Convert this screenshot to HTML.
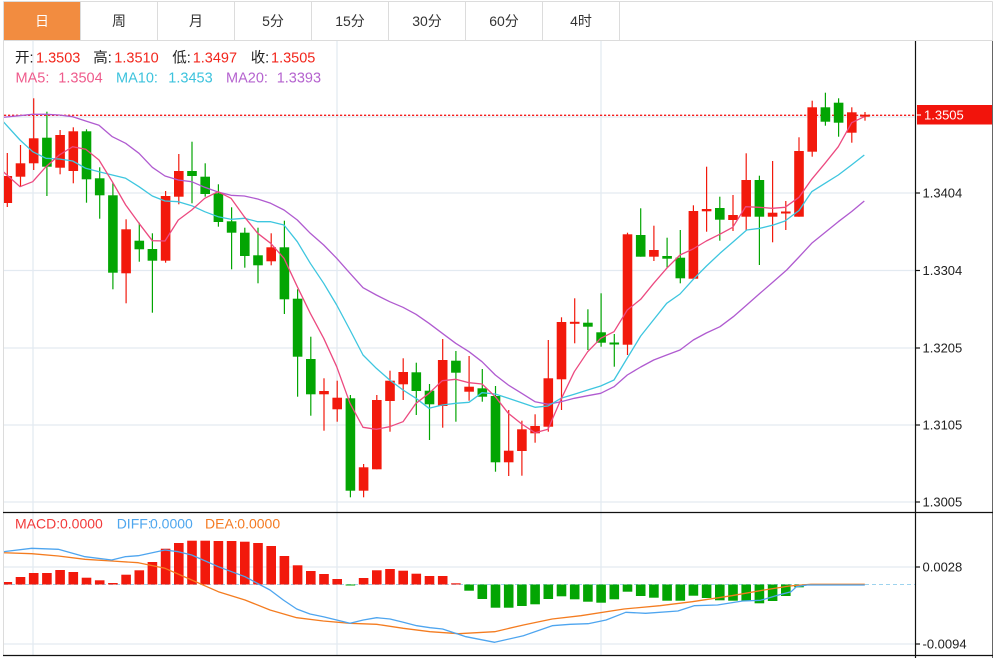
<!DOCTYPE html>
<html><head><meta charset="utf-8"><style>
html,body{margin:0;padding:0;background:#fff;width:993px;height:658px;overflow:hidden}
svg{display:block;font-family:"Liberation Sans","Noto Sans CJK SC",sans-serif}
</style></head><body>
<svg width="993" height="658" viewBox="0 0 993 658" xmlns="http://www.w3.org/2000/svg">
<defs><clipPath id="cp"><rect x="4" y="41" width="911" height="614"/></clipPath></defs>
<rect width="993" height="658" fill="#fff"/>
<!-- tabs -->
<rect x="4" y="2" width="76" height="38" fill="#f28c40"/>
<g stroke="#dcdcdc" stroke-width="1">
<line x1="3.5" y1="1.5" x2="992.5" y2="1.5"/>
<line x1="3.5" y1="40.5" x2="992.5" y2="40.5"/>
<line x1="3.5" y1="1.5" x2="3.5" y2="656"/>
<line x1="992.5" y1="1.5" x2="992.5" y2="41"/>
<line x1="80.5" y1="2" x2="80.5" y2="40"/><line x1="157.5" y1="2" x2="157.5" y2="40"/>
<line x1="234.5" y1="2" x2="234.5" y2="40"/><line x1="311.5" y1="2" x2="311.5" y2="40"/>
<line x1="388.5" y1="2" x2="388.5" y2="40"/><line x1="465.5" y1="2" x2="465.5" y2="40"/>
<line x1="542.5" y1="2" x2="542.5" y2="40"/><line x1="619.5" y1="2" x2="619.5" y2="40"/>
</g>
<line x1="992.5" y1="41" x2="992.5" y2="658" stroke="#666"/>
<g font-size="14" text-anchor="middle" dominant-baseline="central" fill="#333">
<text x="42" y="21" fill="#fff">日</text><text x="119" y="21">周</text><text x="196" y="21">月</text>
<text x="273" y="21">5分</text><text x="350" y="21">15分</text><text x="427" y="21">30分</text>
<text x="504" y="21">60分</text><text x="581" y="21">4时</text>
</g>
<!-- grid -->
<g stroke="#e3eaf1" stroke-width="1.3">
<line x1="4" y1="193" x2="915" y2="193"/><line x1="4" y1="270.5" x2="915" y2="270.5"/>
<line x1="4" y1="348" x2="915" y2="348"/><line x1="4" y1="425" x2="915" y2="425"/>
<line x1="4" y1="502" x2="915" y2="502"/><line x1="4" y1="117" x2="915" y2="117"/>
<line x1="4" y1="567" x2="915" y2="567"/><line x1="4" y1="644" x2="915" y2="644"/>
<line x1="33" y1="41" x2="33" y2="655"/><line x1="337" y1="41" x2="337" y2="655"/><line x1="601" y1="41" x2="601" y2="655"/>
</g>
<!-- legend -->
<g font-size="14.5" dominant-baseline="central">
<text x="15" y="58.5" fill="#222">开:</text><text x="36" y="58.5" fill="#f2261c">1.3503</text>
<text x="93.3" y="58.5" fill="#222">高:</text><text x="114.3" y="58.5" fill="#f2261c">1.3510</text>
<text x="172.3" y="58.5" fill="#222">低:</text><text x="192.7" y="58.5" fill="#f2261c">1.3497</text>
<text x="250.7" y="58.5" fill="#222">收:</text><text x="271" y="58.5" fill="#f2261c">1.3505</text>
<text x="15.5" y="78.5" fill="#ef5b8c">MA5:</text><text x="58.3" y="78.5" fill="#ef5b8c">1.3504</text>
<text x="116" y="78.5" fill="#3dc3dd">MA10:</text><text x="168.3" y="78.5" fill="#3dc3dd">1.3453</text>
<text x="226" y="78.5" fill="#b563cf">MA20:</text><text x="276.7" y="78.5" fill="#b563cf">1.3393</text>
</g>
<g font-size="14" dominant-baseline="central">
<text x="15" y="523.7" fill="#f23a3a">MACD:</text><text x="60" y="523.7" fill="#f23a3a">0.0000</text>
<text x="116.7" y="523.7" fill="#4ea6ee">DIFF:</text><text x="150" y="523.7" fill="#4ea6ee">0.0000</text>
<text x="205" y="523.7" fill="#f47a22">DEA:</text><text x="237.3" y="523.7" fill="#f47a22">0.0000</text>
</g>
<g clip-path="url(#cp)">
<!-- red dashed current price -->
<line x1="4" y1="115.3" x2="915" y2="115.3" stroke="#f51e1e" stroke-width="1.4" stroke-dasharray="2.2,1.8"/>
<!-- red candles -->
<g stroke="#f2190c" stroke-width="1.2">
<line x1="7.3" y1="153" x2="7.3" y2="207"/><line x1="20.5" y1="145" x2="20.5" y2="186.7"/>
<line x1="33.7" y1="98.3" x2="33.7" y2="170"/><line x1="60.1" y1="130" x2="60.1" y2="174.3"/>
<line x1="73.3" y1="127.3" x2="73.3" y2="183.3"/><line x1="126.1" y1="219.3" x2="126.1" y2="303.3"/>
<line x1="165.6" y1="191" x2="165.6" y2="262.7"/><line x1="178.8" y1="154" x2="178.8" y2="204.3"/>
<line x1="271.2" y1="233.3" x2="271.2" y2="265.3"/><line x1="324" y1="378.3" x2="324" y2="430.7"/>
<line x1="337.2" y1="380.7" x2="337.2" y2="421.7"/><line x1="363.6" y1="464" x2="363.6" y2="497.3"/>
<line x1="376.8" y1="395" x2="376.8" y2="469.3"/><line x1="390" y1="370.7" x2="390" y2="431.7"/>
<line x1="403.2" y1="358.3" x2="403.2" y2="400"/><line x1="442.7" y1="339" x2="442.7" y2="427.7"/>
<line x1="469.1" y1="356" x2="469.1" y2="400.7"/><line x1="508.7" y1="410" x2="508.7" y2="476"/>
<line x1="521.9" y1="420.7" x2="521.9" y2="475.7"/><line x1="535.1" y1="414.3" x2="535.1" y2="442.7"/>
<line x1="548.3" y1="340" x2="548.3" y2="431.7"/><line x1="561.5" y1="317.3" x2="561.5" y2="410"/>
<line x1="574.7" y1="298.3" x2="574.7" y2="343.3"/><line x1="627.5" y1="232.7" x2="627.5" y2="355"/>
<line x1="653.9" y1="225.7" x2="653.9" y2="261"/><line x1="693.4" y1="205.3" x2="693.4" y2="278.7"/>
<line x1="706.6" y1="166.7" x2="706.6" y2="231.7"/><line x1="733" y1="195" x2="733" y2="231"/>
<line x1="746.2" y1="153.3" x2="746.2" y2="230"/><line x1="772.6" y1="161" x2="772.6" y2="242.3"/>
<line x1="785.8" y1="201" x2="785.8" y2="230"/><line x1="799" y1="137.3" x2="799" y2="216.7"/>
<line x1="812.2" y1="100.7" x2="812.2" y2="156.7"/><line x1="851.8" y1="107.3" x2="851.8" y2="142.7"/>
<line x1="865" y1="112" x2="865" y2="120.7"/>
</g>
<g fill="#f2190c">
<rect x="2.5" y="176" width="9.6" height="27"/><rect x="15.7" y="163.3" width="9.6" height="13.4"/>
<rect x="28.9" y="138.3" width="9.6" height="25"/><rect x="55.3" y="135" width="9.6" height="32.7"/>
<rect x="68.5" y="131.3" width="9.6" height="39.7"/><rect x="121.3" y="229.3" width="9.6" height="44"/>
<rect x="160.8" y="196" width="9.6" height="64.7"/><rect x="174" y="171" width="9.6" height="25.7"/>
<rect x="266.4" y="247.3" width="9.6" height="14"/><rect x="319.2" y="391" width="9.6" height="3.3"/>
<rect x="332.4" y="397.7" width="9.6" height="11.6"/><rect x="358.8" y="467.3" width="9.6" height="23.4"/>
<rect x="372" y="400" width="9.6" height="69.3"/><rect x="385.2" y="380.7" width="9.6" height="20.3"/>
<rect x="398.4" y="372" width="9.6" height="12.3"/><rect x="437.9" y="360" width="9.6" height="46"/>
<rect x="464.3" y="386.7" width="9.6" height="5"/><rect x="503.9" y="450.7" width="9.6" height="11.6"/>
<rect x="517.1" y="429.3" width="9.6" height="21.7"/><rect x="530.3" y="426" width="9.6" height="7.3"/>
<rect x="543.5" y="378.3" width="9.6" height="48.4"/><rect x="556.7" y="322" width="9.6" height="57.3"/>
<rect x="569.9" y="321.8" width="9.6" height="2"/><rect x="622.7" y="234.3" width="9.6" height="110.4"/>
<rect x="649.1" y="250" width="9.6" height="6.7"/><rect x="688.6" y="211" width="9.6" height="67.7"/>
<rect x="701.8" y="209" width="9.6" height="2.3"/><rect x="728.2" y="215" width="9.6" height="5"/>
<rect x="741.4" y="180" width="9.6" height="36.7"/><rect x="767.8" y="212.7" width="9.6" height="4"/>
<rect x="781" y="211.5" width="9.6" height="2"/><rect x="794.2" y="151" width="9.6" height="65.7"/>
<rect x="807.4" y="107.3" width="9.6" height="44.4"/><rect x="847" y="112.3" width="9.6" height="20.4"/>
<rect x="860.2" y="114.7" width="9.6" height="2"/>
</g>
<!-- green candles -->
<g stroke="#03a503" stroke-width="1.2">
<line x1="46.9" y1="111.7" x2="46.9" y2="196"/><line x1="86.5" y1="129.3" x2="86.5" y2="202.7"/>
<line x1="99.7" y1="167.3" x2="99.7" y2="218.7"/><line x1="112.9" y1="182.7" x2="112.9" y2="289.3"/>
<line x1="139.3" y1="222.7" x2="139.3" y2="261.7"/><line x1="152.4" y1="233.3" x2="152.4" y2="312.7"/>
<line x1="192" y1="141.7" x2="192" y2="203.3"/><line x1="205.2" y1="163.3" x2="205.2" y2="196.7"/>
<line x1="218.4" y1="184.3" x2="218.4" y2="226.7"/><line x1="231.6" y1="207.3" x2="231.6" y2="269.3"/>
<line x1="244.8" y1="227.7" x2="244.8" y2="267.7"/><line x1="258" y1="227.7" x2="258" y2="283.3"/>
<line x1="284.4" y1="220.7" x2="284.4" y2="314"/><line x1="297.6" y1="289.3" x2="297.6" y2="396.7"/>
<line x1="310.8" y1="336.7" x2="310.8" y2="415.7"/><line x1="350.4" y1="395" x2="350.4" y2="497.3"/>
<line x1="416.3" y1="362.7" x2="416.3" y2="415"/><line x1="429.5" y1="384" x2="429.5" y2="440"/>
<line x1="455.9" y1="351" x2="455.9" y2="421.7"/><line x1="482.3" y1="369" x2="482.3" y2="401.7"/>
<line x1="495.5" y1="386" x2="495.5" y2="471.7"/><line x1="587.9" y1="309.3" x2="587.9" y2="350"/>
<line x1="601.1" y1="293.3" x2="601.1" y2="346.7"/><line x1="614.3" y1="334" x2="614.3" y2="366.7"/>
<line x1="640.7" y1="208.3" x2="640.7" y2="256.7"/><line x1="667.1" y1="237.7" x2="667.1" y2="267.7"/>
<line x1="680.3" y1="230" x2="680.3" y2="283.3"/><line x1="719.8" y1="196.7" x2="719.8" y2="240.7"/>
<line x1="759.4" y1="175.7" x2="759.4" y2="265"/><line x1="825.4" y1="92.7" x2="825.4" y2="125.7"/>
<line x1="838.6" y1="98.3" x2="838.6" y2="136.7"/>
</g>
<g fill="#03a503">
<rect x="42.1" y="137.7" width="9.6" height="29"/><rect x="81.7" y="131.3" width="9.6" height="48"/>
<rect x="94.9" y="178.3" width="9.6" height="17"/><rect x="108.1" y="195.3" width="9.6" height="77.4"/>
<rect x="134.5" y="240.7" width="9.6" height="8.6"/><rect x="147.6" y="249" width="9.6" height="11.7"/>
<rect x="187.2" y="171" width="9.6" height="5"/><rect x="200.4" y="176.7" width="9.6" height="17.3"/>
<rect x="213.6" y="193.3" width="9.6" height="28.7"/><rect x="226.8" y="221.3" width="9.6" height="11.4"/>
<rect x="240" y="232.7" width="9.6" height="23.3"/><rect x="253.2" y="255.3" width="9.6" height="10"/>
<rect x="279.6" y="247.3" width="9.6" height="52"/><rect x="292.8" y="298.7" width="9.6" height="58"/>
<rect x="306" y="359" width="9.6" height="35.3"/><rect x="345.6" y="398.3" width="9.6" height="92.4"/>
<rect x="411.5" y="372.3" width="9.6" height="18.7"/><rect x="424.7" y="390.7" width="9.6" height="13.6"/>
<rect x="451.1" y="360.7" width="9.6" height="12"/><rect x="477.5" y="388.3" width="9.6" height="8.4"/>
<rect x="490.7" y="396" width="9.6" height="66.3"/><rect x="583.1" y="322.7" width="9.6" height="4"/>
<rect x="596.3" y="332.3" width="9.6" height="10.4"/><rect x="609.5" y="342.5" width="9.6" height="2"/>
<rect x="635.9" y="235" width="9.6" height="21.7"/><rect x="662.3" y="256" width="9.6" height="2.7"/>
<rect x="675.5" y="257.7" width="9.6" height="20.6"/><rect x="715" y="208" width="9.6" height="11.7"/>
<rect x="754.6" y="180" width="9.6" height="36.7"/><rect x="820.6" y="107.3" width="9.6" height="14.4"/>
<rect x="833.8" y="102.7" width="9.6" height="20"/>
</g>
<!-- MA lines -->
<g fill="none" stroke-width="1.3" stroke-linejoin="round">
<polyline stroke="#b05bd0" points="3.3,117.3 32.7,114.3 46,114.3 59.3,115 72.7,116.7 85.7,121 99,125.3 112.3,136.7 125.7,143.3 139,153.3 152.3,167.3 165,176 178.3,180 191.7,181.7 204.7,187.3 218,192 231,195.3 244.3,196 257.7,199 270.7,203.3 284,210 297.3,220 310.3,233.3 323.7,245 336.7,258.3 350,273.3 363,287.7 376.3,295 389.7,301.7 403,307.3 416,314.3 429,323.3 442.3,333.3 455.7,343.3 469,351.7 482,361.7 495.3,375 508.3,385 521.7,393.3 535,401.7 548,404.3 561,401.7 574.3,398.3 587.7,395.7 600.7,393.3 614,386.7 627.3,375 640.7,367 653.7,360 666.7,355 680,350 693.3,340 706.3,333 720,326.7 733.3,316.7 746.7,305 760,293.3 773.3,281.7 786.7,270 799,257 811.7,243.3 825,232.5 838.3,221.7 851.7,211.5 864.3,201"/>
<polyline stroke="#3ec6df" points="3.3,121.7 20,140 32.7,151.7 46,158.3 59.3,159 72.7,161 85.7,168.3 99,171.7 112.3,175 125.7,178.3 139,186.7 152.3,196 165,201 178.3,201.7 191.7,205.7 204.7,211.7 218,216.7 231,219.3 244.3,218.3 257.7,221.7 270.7,221.7 284,225 297.3,241.7 310.3,263.3 323.7,283.3 336.7,305 350,330 363,355 376.3,368.3 389.7,380 403,390 416,398.3 429,408.3 442.3,405 455.7,403.3 469,402.3 482,392.7 495.3,394 508.3,398.3 521.7,402.7 535,407.3 548,406 561,398.3 574.3,394.3 587.7,390 600.7,386 614,380 627.3,358 640.7,336 653.7,319.6 666.7,303.3 680,294 693.3,279.3 706.5,266 720,253.3 733.3,241.7 746.7,230 760,228.3 773.3,225 785,221 799,210.5 811.7,191.7 825,183.3 838.3,175 851.5,165 864.3,155"/>
<polyline stroke="#ec4a80" points="3.3,171.7 20,186.7 32.7,181.7 46,166.7 59.3,155 72.7,146.7 85.7,149.3 99,160 112.3,181.7 125.7,205 139,223.3 152.3,240.7 165,241 178.3,220 191.7,210 204.7,198.3 218,191.7 231,198.3 244.3,216.7 257.7,233.3 270.7,243.3 284,258.3 297.3,286.7 310.3,313.3 323.7,338.3 336.7,366.7 350,403.3 363,427.3 376.3,429.3 389.7,426.7 403,421.7 416,403.3 429,393.3 442.3,380.7 455.7,379.3 469,382.7 482,384 495.3,396.7 508.3,413.3 521.7,424 535,432.7 548,429.3 561,399.3 574.3,371.7 587.7,351.7 600.7,338.3 614,331.7 627.3,310 640.7,299.3 653.7,283.3 666.7,268.3 680,255 693,249 706.3,241 719.7,234.3 732.7,227.3 745.7,206.7 759,207.3 772.3,208.3 785,207.3 799,197.3 811.7,179.3 825,163.3 838.3,146.7 851.7,122.7 864.3,116.7"/>
</g>
<!-- MACD zero line -->
<line x1="4" y1="584.5" x2="915" y2="584.5" stroke="#9dd3ee" stroke-width="1" stroke-dasharray="4,3"/>
<g fill="#f2190c">
<rect x="2.5" y="582" width="9.6" height="2.5"/><rect x="15.7" y="577" width="9.6" height="7.5"/>
<rect x="28.9" y="573" width="9.6" height="11.5"/><rect x="42.1" y="573" width="9.6" height="11.5"/>
<rect x="55.3" y="570" width="9.6" height="14.5"/><rect x="68.5" y="572" width="9.6" height="12.5"/>
<rect x="81.7" y="577.7" width="9.6" height="6.8"/><rect x="94.9" y="580.3" width="9.6" height="4.2"/>
<rect x="108.1" y="583" width="9.6" height="1.5"/><rect x="121.3" y="574.7" width="9.6" height="9.8"/>
<rect x="134.5" y="570.3" width="9.6" height="14.2"/><rect x="147.6" y="562" width="9.6" height="22.5"/>
<rect x="160.8" y="548.7" width="9.6" height="35.8"/><rect x="174" y="543" width="9.6" height="41.5"/>
<rect x="187.2" y="540.7" width="9.6" height="43.8"/><rect x="200.4" y="540.7" width="9.6" height="43.8"/>
<rect x="213.6" y="541" width="9.6" height="43.5"/><rect x="226.8" y="541" width="9.6" height="43.5"/>
<rect x="240" y="541.7" width="9.6" height="42.8"/><rect x="253.2" y="543" width="9.6" height="41.5"/>
<rect x="266.4" y="546" width="9.6" height="38.5"/><rect x="279.6" y="556" width="9.6" height="28.5"/>
<rect x="292.8" y="565.3" width="9.6" height="19.2"/><rect x="306" y="571" width="9.6" height="13.5"/>
<rect x="319.2" y="574" width="9.6" height="10.5"/><rect x="332.4" y="579" width="9.6" height="5.5"/>
<rect x="358.8" y="578" width="9.6" height="6.5"/><rect x="372" y="570.3" width="9.6" height="14.2"/>
<rect x="385.2" y="569" width="9.6" height="15.5"/><rect x="398.4" y="570.7" width="9.6" height="13.8"/>
<rect x="411.5" y="573.7" width="9.6" height="10.8"/><rect x="424.7" y="576" width="9.6" height="8.5"/>
<rect x="437.9" y="576" width="9.6" height="8.5"/><rect x="451.1" y="583.3" width="9.6" height="1.2"/>
</g>
<g fill="#03a503">
<rect x="345.6" y="584.5" width="9.6" height="1"/>
<rect x="464.3" y="584.5" width="9.6" height="6.2"/><rect x="477.5" y="584.5" width="9.6" height="14.5"/>
<rect x="490.7" y="584.5" width="9.6" height="23.2"/><rect x="503.9" y="584.5" width="9.6" height="23.2"/>
<rect x="517.1" y="584.5" width="9.6" height="21.5"/><rect x="530.3" y="584.5" width="9.6" height="19.8"/>
<rect x="543.5" y="584.5" width="9.6" height="14.5"/><rect x="556.7" y="584.5" width="9.6" height="11.8"/>
<rect x="569.9" y="584.5" width="9.6" height="14.8"/><rect x="583.1" y="584.5" width="9.6" height="17.2"/>
<rect x="596.3" y="584.5" width="9.6" height="18.2"/><rect x="609.5" y="584.5" width="9.6" height="14.8"/>
<rect x="622.7" y="584.5" width="9.6" height="7.2"/><rect x="635.9" y="584.5" width="9.6" height="11.5"/>
<rect x="649.1" y="584.5" width="9.6" height="13.2"/><rect x="662.3" y="584.5" width="9.6" height="16.2"/>
<rect x="675.5" y="584.5" width="9.6" height="16.2"/><rect x="688.6" y="584.5" width="9.6" height="11.2"/>
<rect x="701.8" y="584.5" width="9.6" height="13.5"/><rect x="715" y="584.5" width="9.6" height="15.8"/>
<rect x="728.2" y="584.5" width="9.6" height="16.2"/><rect x="741.4" y="584.5" width="9.6" height="16.2"/>
<rect x="754.6" y="584.5" width="9.6" height="18.8"/><rect x="767.8" y="584.5" width="9.6" height="16.5"/>
<rect x="781" y="584.5" width="9.6" height="11.5"/><rect x="794.2" y="584.5" width="9.6" height="2.8"/>
</g>
<g fill="none" stroke-width="1.3" stroke-linejoin="round">
<polyline stroke="#f47c20" points="3.3,552.7 31.7,553.7 58.3,556 85,559.3 111.7,561 138.3,562.7 165,568.3 191.7,580 218.3,591.7 245,600 270,610 296.7,617.7 323.3,621 350,623.3 376.7,624.3 403.3,628.3 430,631.7 458.7,633.7 494.7,631.7 523.4,625 552.2,619 580.9,615.7 624,609 660,605.7 692.3,601.7 731.8,595.7 764.2,590 789.3,586 810.9,584.3 864.8,584.3"/>
<polyline stroke="#4ea5ef" points="3.3,551.7 31.7,548.3 58.3,549.3 85,556.7 111.7,560 125,556.7 138.3,555.7 165,550 178.3,551.7 191.7,555 218.3,566.7 245,576.7 270,590 283.3,600 296.7,609 310,614 323.3,616.7 336.7,620 350,623.3 363.3,620 376.7,617.7 390,619 403.3,622.3 416.7,625.7 430,627.7 442.6,629 465.9,636.7 494.7,642.3 523.4,635.7 552.2,625.7 570.1,624.3 588.1,623.7 606.1,620 625.8,612.3 645.6,613.3 677.9,611 694.1,605.7 717.5,605 742.6,601 760.6,600.3 778.5,595 791.1,591.7 796.5,586.7 807.3,585 864.8,585"/>
</g>
</g>
<!-- frame lines -->
<g stroke="#111" stroke-width="1.2">
<line x1="3" y1="512.5" x2="993" y2="512.5"/>
<line x1="3" y1="655.5" x2="993" y2="655.5"/>
<line x1="915.5" y1="41" x2="915.5" y2="658"/>
<line x1="915" y1="193" x2="920" y2="193"/><line x1="915" y1="270.5" x2="920" y2="270.5"/>
<line x1="915" y1="348" x2="920" y2="348"/><line x1="915" y1="425" x2="920" y2="425"/>
<line x1="915" y1="502" x2="920" y2="502"/><line x1="915" y1="567" x2="920" y2="567"/>
<line x1="915" y1="644" x2="920" y2="644"/>
</g>
<rect x="917" y="105" width="75" height="19.5" fill="#f2140c"/>
<line x1="916" y1="115" x2="921" y2="115" stroke="#fff" stroke-width="1.2"/>
<g font-size="13" dominant-baseline="central" fill="#222">
<text x="924" y="115" fill="#fff">1.3505</text>
<text x="922.5" y="193">1.3404</text><text x="922.5" y="270.5">1.3304</text>
<text x="922.5" y="348">1.3205</text><text x="922.5" y="425">1.3105</text>
<text x="922.5" y="502">1.3005</text><text x="922.5" y="567">0.0028</text>
<text x="922.5" y="644">-0.0094</text>
</g>
</svg>
</body></html>
